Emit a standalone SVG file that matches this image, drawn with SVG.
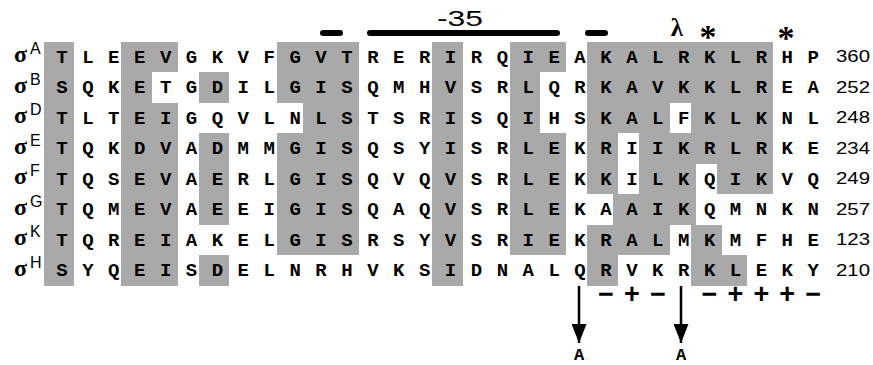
<svg xmlns="http://www.w3.org/2000/svg" width="873" height="365" viewBox="0 0 873 365">
<defs>
<style>
.shade rect{fill:#a9a9a9;shape-rendering:crispEdges}
.seq{font-family:"Liberation Mono","DejaVu Sans Mono",monospace;font-weight:bold;font-size:19px;letter-spacing:1.55px;fill:#000}
.sig{font-family:"Liberation Serif","DejaVu Serif",serif;font-weight:bold;font-size:24px;fill:#000}
.sup{font-family:"Liberation Sans",Arial,sans-serif;font-size:16px;font-weight:normal;fill:#000}
.num{font-family:"Liberation Sans",Arial,sans-serif;font-size:17px;fill:#000}
.bar{stroke:#000;stroke-width:6;stroke-linecap:round}
.arrow{stroke:#000;stroke-width:2.5;fill:none}
.pm{font-family:"Liberation Sans",Arial,sans-serif;font-weight:bold;font-size:27px;fill:#000;text-anchor:middle}
.lab{font-family:"Liberation Mono","DejaVu Sans Mono",monospace;font-weight:bold;font-size:17px;fill:#000;text-anchor:middle}
.mark{font-family:"Liberation Serif","DejaVu Serif",serif;font-weight:bold;text-anchor:middle;fill:#000}
</style>
<marker id="head" markerUnits="userSpaceOnUse" markerWidth="19" markerHeight="15" refX="19" refY="7.5" orient="auto" viewBox="0 0 19 15">
<path d="M0,0 L19,7.5 L0,15 z" fill="#000"/>
</marker>
</defs>
<rect width="873" height="365" fill="#fff"/>

<g id="shading" class="shade">
<rect x="43.5" y="42" width="30.5" height="244"/>
<rect x="432" y="42" width="30.5" height="244"/>
<rect x="121.2" y="42" width="56.4" height="30"/>
<rect x="121.2" y="72" width="30.5" height="31"/>
<rect x="121.2" y="103" width="56.4" height="183"/>
<rect x="198.9" y="72" width="30.5" height="31"/>
<rect x="198.9" y="133" width="30.5" height="92"/>
<rect x="198.9" y="255" width="30.5" height="31"/>
<rect x="276.6" y="42" width="82.3" height="61"/>
<rect x="302.5" y="103" width="56.4" height="30"/>
<rect x="276.6" y="133" width="82.3" height="122"/>
<rect x="509.7" y="42" width="56.4" height="30"/>
<rect x="509.7" y="72" width="30.5" height="61"/>
<rect x="509.7" y="133" width="56.4" height="122"/>
<rect x="587.4" y="42" width="185.9" height="61"/>
<rect x="587.4" y="103" width="82.3" height="30"/>
<rect x="691" y="103" width="82.3" height="30"/>
<rect x="587.4" y="133" width="30.5" height="61"/>
<rect x="639.2" y="133" width="134.1" height="31"/>
<rect x="639.2" y="164" width="56.4" height="30"/>
<rect x="716.9" y="164" width="56.4" height="30"/>
<rect x="613.3" y="194" width="82.3" height="31"/>
<rect x="587.4" y="225" width="82.3" height="30"/>
<rect x="691" y="225" width="30.5" height="30"/>
<rect x="587.4" y="255" width="30.5" height="31"/>
<rect x="691" y="255" width="56.4" height="31"/>
</g>

<g id="annotations">
<line class="bar" x1="323" y1="33" x2="340" y2="33"/>
<line class="bar" x1="370" y1="33" x2="557" y2="33"/>
<line class="bar" x1="588" y1="33" x2="605" y2="33"/>
<text x="437" y="26" font-family="Liberation Sans, Arial, sans-serif" font-size="22" textLength="46" lengthAdjust="spacingAndGlyphs">-35</text>
<text class="mark" x="677" y="36" font-size="25">λ</text>
<text class="mark" x="708" y="48" font-size="34">*</text>
<text class="mark" x="786" y="49" font-size="34">*</text>
</g>

<g id="row-sigmaA">
<text class="sig" x="14" y="62">σ<tspan class="sup" x="30" y="54">A</tspan></text>
<text class="seq" x="56.3" y="62.5">T L E E V G K V F G V T R E R I R Q I E A K A L R K L R H P</text>
<text class="num" x="836" y="62" textLength="34" lengthAdjust="spacingAndGlyphs">360</text>
</g>
<g id="row-sigmaB">
<text class="sig" x="14" y="92.5">σ<tspan class="sup" x="30" y="84.5">B</tspan></text>
<text class="seq" x="56.3" y="93">S Q K E T G D I L G I S Q M H V S R L Q R K A V K K L R E A</text>
<text class="num" x="836" y="92.5" textLength="34" lengthAdjust="spacingAndGlyphs">252</text>
</g>
<g id="row-sigmaD">
<text class="sig" x="14" y="123">σ<tspan class="sup" x="30" y="115">D</tspan></text>
<text class="seq" x="56.3" y="123.5">T L T E I G Q V L N L S T S R I S Q I H S K A L F K L K N L</text>
<text class="num" x="836" y="123" textLength="34" lengthAdjust="spacingAndGlyphs">248</text>
</g>
<g id="row-sigmaE">
<text class="sig" x="14" y="153.5">σ<tspan class="sup" x="30" y="145.5">E</tspan></text>
<text class="seq" x="56.3" y="154">T Q K D V A D M M G I S Q S Y I S R L E K R I I K R L R K E</text>
<text class="num" x="836" y="153.5" textLength="34" lengthAdjust="spacingAndGlyphs">234</text>
</g>
<g id="row-sigmaF">
<text class="sig" x="14" y="184">σ<tspan class="sup" x="30" y="176">F</tspan></text>
<text class="seq" x="56.3" y="184.5">T Q S E V A E R L G I S Q V Q V S R L E K K I L K Q I K V Q</text>
<text class="num" x="836" y="184" textLength="34" lengthAdjust="spacingAndGlyphs">249</text>
</g>
<g id="row-sigmaG">
<text class="sig" x="14" y="214.5">σ<tspan class="sup" x="30" y="206.5">G</tspan></text>
<text class="seq" x="56.3" y="215">T Q M E V A E E I G I S Q A Q V S R L E K A A I K Q M N K N</text>
<text class="num" x="836" y="214.5" textLength="34" lengthAdjust="spacingAndGlyphs">257</text>
</g>
<g id="row-sigmaK">
<text class="sig" x="14" y="245">σ<tspan class="sup" x="30" y="237">K</tspan></text>
<text class="seq" x="56.3" y="245.5">T Q R E I A K E L G I S R S Y V S R I E K R A L M K M F H E</text>
<text class="num" x="836" y="245" textLength="34" lengthAdjust="spacingAndGlyphs">123</text>
</g>
<g id="row-sigmaH">
<text class="sig" x="14" y="275.5">σ<tspan class="sup" x="30" y="267.5">H</tspan></text>
<text class="seq" x="56.3" y="276">S Y Q E I S D E L N R H V K S I D N A L Q R V K R K L E K Y</text>
<text class="num" x="836" y="275.5" textLength="34" lengthAdjust="spacingAndGlyphs">210</text>
</g>

<g id="charges">
<text class="pm" x="606 632 658" y="303">−+−</text>
<text class="pm" x="709.5 735.4 761.3 787.2 813.1" y="303">−+++−</text>
</g>

<g id="connectors">
<line class="arrow" x1="579" y1="286" x2="579" y2="343" marker-end="url(#head)"/>
<line class="arrow" x1="681" y1="286" x2="681" y2="343" marker-end="url(#head)"/>
</g>

<g id="mutation-labels">
<text class="lab" x="579" y="360">A</text>
<text class="lab" x="681" y="360">A</text>
</g>
</svg>
